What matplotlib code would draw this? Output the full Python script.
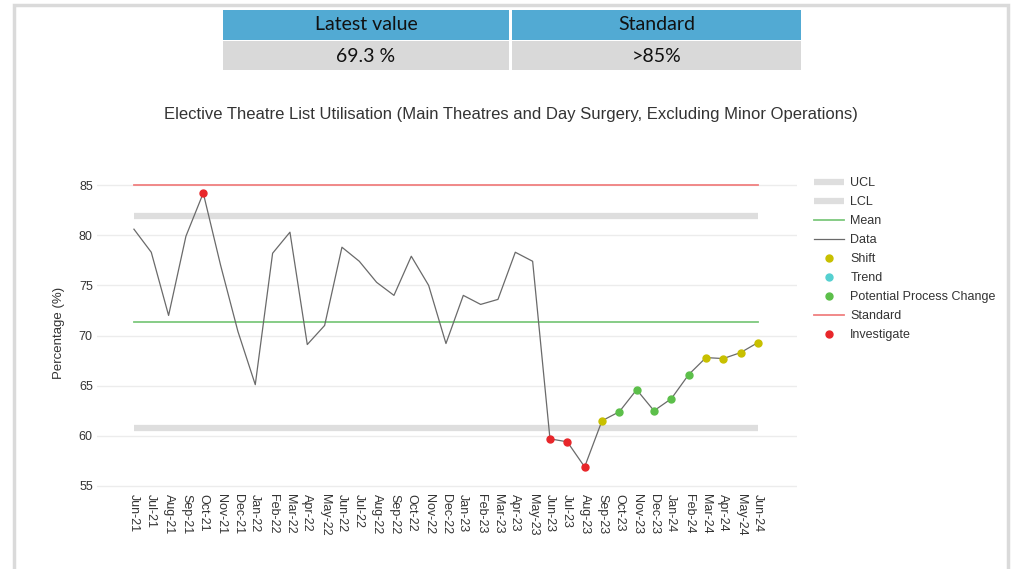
import numpy as np
import matplotlib.pyplot as plt
from matplotlib.patches import Rectangle

months = ['Jun-21', 'Jul-21', 'Aug-21', 'Sep-21', 'Oct-21', 'Nov-21', 'Dec-21',
          'Jan-22', 'Feb-22', 'Mar-22', 'Apr-22', 'May-22', 'Jun-22', 'Jul-22',
          'Aug-22', 'Sep-22', 'Oct-22', 'Nov-22', 'Dec-22', 'Jan-23', 'Feb-23',
          'Mar-23', 'Apr-23', 'May-23', 'Jun-23', 'Jul-23', 'Aug-23', 'Sep-23',
          'Oct-23', 'Nov-23', 'Dec-23', 'Jan-24', 'Feb-24', 'Mar-24', 'Apr-24',
          'May-24', 'Jun-24']
values = [80.6, 78.3, 72.0, 79.9, 84.2, 77.0, 70.4, 65.1, 78.2, 80.3, 69.1, 71.0,
          78.8, 77.4, 75.3, 74.0, 77.9, 75.0, 69.2, 74.0, 73.1, 73.6, 78.3, 77.4,
          59.7, 59.4, 56.9, 61.5, 62.4, 64.6, 62.5, 63.7, 66.1, 67.8, 67.7, 68.3, 69.3]
# SPC flag per point ('' = none)
flags = ['', '', '', '', 'Investigate', '', '', '', '', '', '', '',
         '', '', '', '', '', '', '', '', '', '', '', '',
         'Investigate', 'Investigate', 'Investigate', 'Shift',
         'Potential Process Change', 'Potential Process Change', 'Potential Process Change',
         'Potential Process Change', 'Potential Process Change',
         'Shift', 'Shift', 'Shift', 'Shift']
mean_val = 71.35
ucl = 81.9
lcl = 60.75
standard = 85

table_head = ['Latest value', 'Standard']
table_body = ['69.3 %', '>85%']

W, H = 1014, 569
fig = plt.figure(figsize=(W / 100, H / 100), dpi=100)
plt.rcParams['font.family'] = ['Liberation Sans', 'DejaVu Sans']


def fx(px):
    return px / W


def fy(py):
    return 1 - py / H


# outer frame
fig.patches.append(Rectangle((fx(14), fy(572)), fx(1008) - fx(14), fy(5) - fy(572),
                             transform=fig.transFigure, fill=False,
                             edgecolor='#dadada', linewidth=2.5))

# header table
cells = [(223, 509), (512, 801)]
for (x0, x1), head, body in zip(cells, table_head, table_body):
    fig.patches.append(Rectangle((fx(x0), fy(40)), fx(x1) - fx(x0), fy(10) - fy(40),
                                 transform=fig.transFigure, color='#52aad3', linewidth=0))
    fig.patches.append(Rectangle((fx(x0), fy(70)), fx(x1) - fx(x0), fy(41) - fy(70),
                                 transform=fig.transFigure, color='#d9d9d9', linewidth=0))
    fig.text(fx((x0 + x1) / 2), fy(25), head, ha='center', va='center',
             fontsize=14, family='Lato', color='#111111')
    fig.text(fx((x0 + x1) / 2), fy(56), body, ha='center', va='center',
             fontsize=14, family='Lato', color='#111111')

fig.text(fx(511), fy(115), 'Elective Theatre List Utilisation (Main Theatres and Day Surgery, '
         'Excluding Minor Operations)', ha='center', va='center', fontsize=12, color='#333333')

ax = fig.add_axes([fx(97), fy(491), fx(797) - fx(97), fy(175) - fy(491)])
x = np.arange(len(months))
vals = np.array(values)

ax.plot([x[0], x[-1]], [ucl, ucl], color='#dedede', linewidth=4.5, label='UCL', solid_capstyle='butt')
ax.plot([x[0], x[-1]], [lcl, lcl], color='#dedede', linewidth=4.5, label='LCL', solid_capstyle='butt')
ax.plot([x[0], x[-1]], [mean_val, mean_val], color='#7dc87d', linewidth=1.3, label='Mean')
ax.plot(x, vals, color='#6a6a6a', linewidth=0.9, label='Data')

flag_colors = {'Shift': '#c8c000', 'Trend': '#55d0d0',
               'Potential Process Change': '#5cbf4a', 'Investigate': '#e8262a'}
for name in ['Shift', 'Trend', 'Potential Process Change']:
    idx = [i for i, f in enumerate(flags) if f == name]
    ax.plot(x[idx], vals[idx], 'o', color=flag_colors[name],
            markersize=5, linestyle='none', label=name, zorder=5)
ax.plot([x[0], x[-1]], [standard, standard], color='#f08080', linewidth=1.3, label='Standard')
idx = [i for i, f in enumerate(flags) if f == 'Investigate']
ax.plot(x[idx], vals[idx], 'o', color=flag_colors['Investigate'], markersize=5,
        linestyle='none', label='Investigate', zorder=5)

ax.set_xlim(-2.13, 38.25)
ax.set_ylim(54.5, 86)
ax.set_yticks([55, 60, 65, 70, 75, 80, 85])
ax.set_xticks(x)
ax.set_xticklabels(months, rotation=-90, fontsize=9, color='#333333')
ax.tick_params(axis='y', labelsize=9, labelcolor='#333333', length=0, pad=3)
ax.tick_params(axis='x', length=0, pad=2)
ax.grid(axis='y', color='#ececec', linewidth=1)
ax.set_axisbelow(True)
for s in ax.spines.values():
    s.set_visible(False)
ax.set_ylabel('Percentage (%)', fontsize=9.5, color='#333333', labelpad=10)

fig.legend(loc='upper left', bbox_to_anchor=(fx(814), fy(177)), frameon=False,
           fontsize=9, handlelength=2.4, handletextpad=0.5, labelspacing=0.56,
           borderpad=0, borderaxespad=0, labelcolor='#333333')

fig.savefig('out.png', dpi=100)
